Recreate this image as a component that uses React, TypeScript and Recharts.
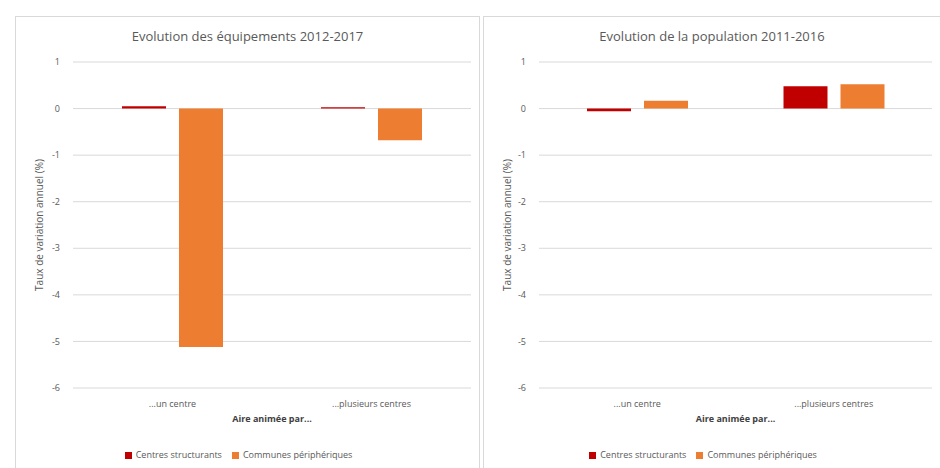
import { Bar, BarChart, CartesianGrid, Legend, XAxis, YAxis } from "recharts"

const categories = ["...un centre", "...plusieurs centres"]
const equipCentres = [0.05, 0.03]
const equipCommunes = [-5.12, -0.68]
const popCentres = [-0.06, 0.48]
const popCommunes = [0.17, 0.52]
const yTicks = [-6, -5, -4, -3, -2, -1, 0, 1]

const equipData = categories.map((name, i) => ({
  name,
  centres: equipCentres[i],
  communes: equipCommunes[i],
}))

const popData = categories.map((name, i) => ({
  name,
  centres: popCentres[i],
  communes: popCommunes[i],
}))

const font = "'Open Sans', 'Noto Sans', sans-serif"
const grey = "#595959"

function Panel({ title, data, left, width, plotLeft }: { title: string; data: any[]; left: number; width: number; plotLeft: number }) {
  return (
    <div
      style={{
        position: "absolute",
        left,
        top: 16,
        width,
        height: 460,
        borderLeft: "1px solid #d9d9d9",
        borderTop: "1px solid #d9d9d9",
        borderRight: "1px solid #d9d9d9",
        background: "#fff",
      }}
    >
      <div
        style={{
          position: "absolute",
          top: 10,
          left: 0,
          width: "100%",
          textAlign: "center",
          fontFamily: font,
          fontSize: 13,
          color: grey,
        }}
      >
        {title}
      </div>
      <BarChart
        width={width}
        height={452}
        data={data}
        margin={{ top: 45, right: 8, bottom: 28, left: 0 }}
        barSize={44}
        barGap={13}
      >
        <CartesianGrid vertical={false} stroke="#d9d9d9" />
        <XAxis
          dataKey="name"
          axisLine={false}
          tickLine={false}
          tick={{ fontSize: 9, fill: grey, fontFamily: font }}
          tickMargin={7}
          height={40}
          label={{ value: "Aire animée par...", position: "insideBottom", offset: 6, fontSize: 9, fontWeight: 700, fill: "#404040", fontFamily: font }}
        />
        <YAxis
          domain={[-6, 1]}
          ticks={yTicks}
          axisLine={false}
          tickLine={false}
          width={plotLeft}
          tick={{ fontSize: 9, fill: grey, fontFamily: font }}
          tickMargin={7}
          label={{ value: "Taux de variation annuel (%)", angle: -90, position: "insideLeft", offset: 23, style: { textAnchor: "middle" }, fontSize: 10, fill: grey, fontFamily: font }}
        />
        <Legend
          verticalAlign="bottom"
          iconType="square"
          iconSize={7}
          wrapperStyle={{ bottom: 8, fontFamily: font, fontSize: 9 }}
          formatter={(value) => <span style={{ color: grey }}>{value}</span>}
        />
        <Bar dataKey="centres" name="Centres structurants" fill="#c00000" isAnimationActive={false} />
        <Bar dataKey="communes" name="Communes périphériques" fill="#ed7d31" isAnimationActive={false} />
      </BarChart>
    </div>
  )
}

export default function App() {
  return (
    <div style={{ position: "fixed", left: 0, top: 0, width: 940, height: 468, background: "#fff", overflow: "hidden" }}>
      <Panel title="Evolution des équipements 2012-2017" data={equipData} left={15} width={463} plotLeft={57} />
      <Panel title="Evolution de la population 2011-2016" data={popData} left={483} width={456} plotLeft={55} />
    </div>
  )
}
